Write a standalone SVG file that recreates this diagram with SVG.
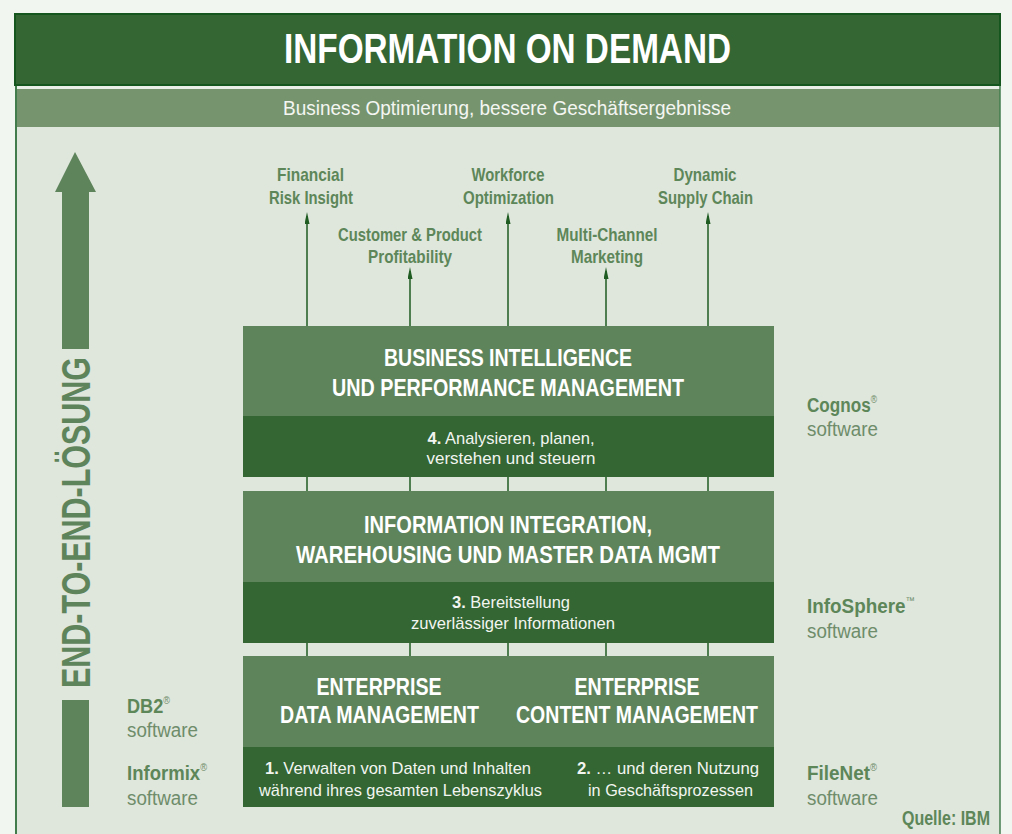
<svg xmlns="http://www.w3.org/2000/svg" width="1012" height="834" viewBox="0 0 1012 834">
<style>
.sans{font-family:"Liberation Sans",Arial,sans-serif}
.hd{font-family:"Liberation Sans",Arial,sans-serif;font-weight:bold;font-size:24px;fill:#ffffff;text-anchor:middle}
.bd{font-family:"Liberation Sans",Arial,sans-serif;font-size:17px;fill:#f2f5f0;text-anchor:middle}
.out{font-family:"Liberation Sans",Arial,sans-serif;font-weight:bold;font-size:19px;fill:#5d8659;text-anchor:middle}
.prod{font-family:"Liberation Sans",Arial,sans-serif;font-weight:bold;font-size:20px;fill:#5d8659}
.sw{font-family:"Liberation Sans",Arial,sans-serif;font-size:20px;fill:#6e8d6a}
.sup{font-size:10px;font-weight:normal;fill:#6e8d6a}
.light{fill:#5e845b}
.dark{fill:#336633}
.conn{stroke:#1f5c22;stroke-width:1.5;fill:none}
</style>
<defs>
<marker id="ah" viewBox="0 0 12 5" refX="8" refY="2.5" markerWidth="12" markerHeight="5" markerUnits="userSpaceOnUse" orient="auto">
<path d="M0,0 L12,2.5 L0,5 z" fill="#1f5c22"/>
</marker>
</defs>
<rect x="0" y="0" width="1012" height="834" fill="#f2f6f1"/>
<g id="frame">
<rect x="16" y="85" width="984" height="749" fill="#dfe6dc"/>
<rect x="16" y="85" width="984" height="4" fill="#e9eee7"/>
<rect x="16" y="89" width="984" height="38" fill="#76956f"/>
<line x1="16" y1="85" x2="16" y2="834" stroke="#437c4c" stroke-width="2"/>
<line x1="1000" y1="85" x2="1000" y2="834" stroke="#437c4c" stroke-width="1.5"/>
</g>
<g id="title">
<rect x="15" y="14" width="985" height="71" fill="#336633" stroke="#14561d" stroke-width="2"/>
<text class="sans" x="507.5" y="63" font-size="42" font-weight="bold" fill="#ffffff" text-anchor="middle" textLength="447" lengthAdjust="spacingAndGlyphs">INFORMATION ON DEMAND</text>
</g>
<g id="subtitle">
<text class="sans" x="507" y="115" font-size="21" fill="#f4f6f2" text-anchor="middle" textLength="448" lengthAdjust="spacingAndGlyphs">Business Optimierung, bessere Geschäftsergebnisse</text>
</g>
<g id="end-to-end">
<path d="M75,152 L96,192 L89,192 L89,349 L62,349 L62,192 L55,192 Z" fill="#5e845b"/>
<rect x="62" y="700" width="27" height="107" fill="#5e845b"/>
<text class="sans" transform="translate(90 522.5) rotate(-90)" font-size="40" font-weight="bold" fill="#5e845b" text-anchor="middle" textLength="331" lengthAdjust="spacingAndGlyphs">END-TO-END-LÖSUNG</text>
</g>
<g id="connectors">
<line class="conn" x1="307" y1="326" x2="307" y2="216" marker-end="url(#ah)"/>
<line class="conn" x1="410" y1="326" x2="410" y2="271" marker-end="url(#ah)"/>
<line class="conn" x1="508" y1="326" x2="508" y2="216" marker-end="url(#ah)"/>
<line class="conn" x1="606" y1="326" x2="606" y2="271" marker-end="url(#ah)"/>
<line class="conn" x1="708" y1="326" x2="708" y2="216" marker-end="url(#ah)"/>
<line class="conn" x1="307" y1="477" x2="307" y2="491"/>
<line class="conn" x1="410" y1="477" x2="410" y2="491"/>
<line class="conn" x1="508" y1="477" x2="508" y2="491"/>
<line class="conn" x1="606" y1="477" x2="606" y2="491"/>
<line class="conn" x1="708" y1="477" x2="708" y2="491"/>
<line class="conn" x1="307" y1="643" x2="307" y2="656"/>
<line class="conn" x1="410" y1="643" x2="410" y2="656"/>
<line class="conn" x1="508" y1="643" x2="508" y2="656"/>
<line class="conn" x1="606" y1="643" x2="606" y2="656"/>
<line class="conn" x1="708" y1="643" x2="708" y2="656"/>
</g>
<g id="outcome-financial">
<text class="out" x="310.5" y="181" textLength="67" lengthAdjust="spacingAndGlyphs">Financial</text>
<text class="out" x="311" y="204" textLength="84" lengthAdjust="spacingAndGlyphs">Risk Insight</text>
</g>
<g id="outcome-customer">
<text class="out" x="410" y="241" textLength="144" lengthAdjust="spacingAndGlyphs">Customer &amp; Product</text>
<text class="out" x="410" y="263" textLength="84" lengthAdjust="spacingAndGlyphs">Profitability</text>
</g>
<g id="outcome-workforce">
<text class="out" x="508" y="181" textLength="73" lengthAdjust="spacingAndGlyphs">Workforce</text>
<text class="out" x="508.5" y="204" textLength="91" lengthAdjust="spacingAndGlyphs">Optimization</text>
</g>
<g id="outcome-multichannel">
<text class="out" x="607" y="241" textLength="101" lengthAdjust="spacingAndGlyphs">Multi-Channel</text>
<text class="out" x="607" y="263" textLength="72" lengthAdjust="spacingAndGlyphs">Marketing</text>
</g>
<g id="outcome-supply">
<text class="out" x="705" y="181" textLength="63" lengthAdjust="spacingAndGlyphs">Dynamic</text>
<text class="out" x="705.5" y="204" textLength="95" lengthAdjust="spacingAndGlyphs">Supply Chain</text>
</g>
<g id="box-bi">
<rect class="light" x="243" y="326" width="531" height="90"/>
<rect class="dark" x="243" y="416" width="531" height="61"/>
<text class="hd" x="508" y="366" textLength="248" lengthAdjust="spacingAndGlyphs">BUSINESS INTELLIGENCE</text>
<text class="hd" x="508" y="396" textLength="352" lengthAdjust="spacingAndGlyphs">UND PERFORMANCE MANAGEMENT</text>
<text class="bd" x="511" y="444" textLength="167" lengthAdjust="spacingAndGlyphs"><tspan font-weight="bold">4.</tspan> Analysieren, planen,</text>
<text class="bd" x="511" y="464" textLength="169" lengthAdjust="spacingAndGlyphs">verstehen und steuern</text>
</g>
<g id="box-integration">
<rect class="light" x="243" y="491" width="531" height="91"/>
<rect class="dark" x="243" y="582" width="531" height="61"/>
<text class="hd" x="508" y="533" textLength="288" lengthAdjust="spacingAndGlyphs">INFORMATION INTEGRATION,</text>
<text class="hd" x="508" y="563" textLength="424" lengthAdjust="spacingAndGlyphs">WAREHOUSING UND MASTER DATA MGMT</text>
<text class="bd" x="511" y="608" textLength="118" lengthAdjust="spacingAndGlyphs"><tspan font-weight="bold">3.</tspan> Bereitstellung</text>
<text class="bd" x="513" y="629" textLength="204" lengthAdjust="spacingAndGlyphs">zuverlässiger Informationen</text>
</g>
<g id="box-enterprise">
<rect class="light" x="243" y="656" width="531" height="91"/>
<rect class="dark" x="243" y="747" width="531" height="60"/>
<text class="hd" x="379" y="695" textLength="125" lengthAdjust="spacingAndGlyphs">ENTERPRISE</text>
<text class="hd" x="379.5" y="723" textLength="199" lengthAdjust="spacingAndGlyphs">DATA MANAGEMENT</text>
<text class="hd" x="637" y="695" textLength="125" lengthAdjust="spacingAndGlyphs">ENTERPRISE</text>
<text class="hd" x="637" y="723" textLength="242" lengthAdjust="spacingAndGlyphs">CONTENT MANAGEMENT</text>
<text class="bd" x="398" y="774" textLength="266" lengthAdjust="spacingAndGlyphs"><tspan font-weight="bold">1.</tspan> Verwalten von Daten und Inhalten</text>
<text class="bd" x="400.5" y="796" textLength="283" lengthAdjust="spacingAndGlyphs">während ihres gesamten Lebenszyklus</text>
<text class="bd" x="668" y="774" textLength="182" lengthAdjust="spacingAndGlyphs"><tspan font-weight="bold">2.</tspan> … und deren Nutzung</text>
<text class="bd" x="670.5" y="796" textLength="165" lengthAdjust="spacingAndGlyphs">in Geschäftsprozessen</text>
</g>
<g id="label-cognos">
<text class="prod" x="807" y="412" textLength="70" lengthAdjust="spacingAndGlyphs">Cognos<tspan class="sup" dy="-9">®</tspan></text>
<text class="sw" x="807" y="436" textLength="71" lengthAdjust="spacingAndGlyphs">software</text>
</g>
<g id="label-infosphere">
<text class="prod" x="807" y="613" textLength="108" lengthAdjust="spacingAndGlyphs">InfoSphere<tspan class="sup" dy="-9">™</tspan></text>
<text class="sw" x="807" y="638" textLength="71" lengthAdjust="spacingAndGlyphs">software</text>
</g>
<g id="label-filenet">
<text class="prod" x="807" y="780" textLength="70" lengthAdjust="spacingAndGlyphs">FileNet<tspan class="sup" dy="-9">®</tspan></text>
<text class="sw" x="807" y="805" textLength="71" lengthAdjust="spacingAndGlyphs">software</text>
</g>
<g id="label-db2">
<text class="prod" x="127" y="713" textLength="43" lengthAdjust="spacingAndGlyphs">DB2<tspan class="sup" dy="-9">®</tspan></text>
<text class="sw" x="127" y="737" textLength="71" lengthAdjust="spacingAndGlyphs">software</text>
</g>
<g id="label-informix">
<text class="prod" x="127" y="780" textLength="80" lengthAdjust="spacingAndGlyphs">Informix<tspan class="sup" dy="-9">®</tspan></text>
<text class="sw" x="127" y="805" textLength="71" lengthAdjust="spacingAndGlyphs">software</text>
</g>
<g id="source">
<text class="prod" x="990" y="825" font-size="18" text-anchor="end" textLength="88" lengthAdjust="spacingAndGlyphs">Quelle: IBM</text>
</g>
</svg>
